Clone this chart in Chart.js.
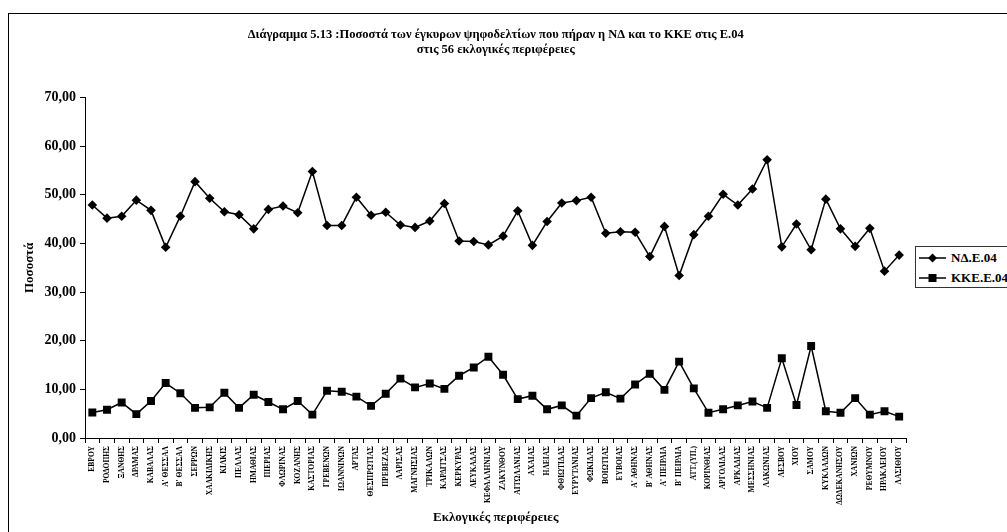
<!DOCTYPE html>
<html>
<head>
<meta charset="utf-8">
<script src="https://cdn.jsdelivr.net/npm/chart.js@4.4.1/dist/chart.umd.min.js"></script>
<style>
  html, body { margin: 0; padding: 0; background: #fff; overflow: hidden; width: 1007px; height: 532px; }
  #wrap { position: relative; width: 1007px; height: 532px; overflow: hidden; }
  #frame { position: absolute; left: 8px; top: 13px; width: 1200px; height: 700px; border: 1px solid #000; box-sizing: border-box; pointer-events: none; }
  #c { position: absolute; left: 0; top: 0; }
  #legend { position: absolute; left: 915px; top: 246px; width: 120px; height: 42px; border: 1px solid #333; box-sizing: border-box; background: #fff;
            font-family: 'Liberation Serif', 'Times New Roman', serif; font-weight: bold; font-size: 13px; color: #000; }
  .row { position: absolute; left: 3px; height: 16px; display: flex; align-items: center; white-space: nowrap; }
  .row svg { margin-right: 5px; }
</style>
</head>
<body>
<div id="wrap">
  <div id="frame"></div>
  <canvas id="c" width="1007" height="532"></canvas>
  <div id="legend">
    <div class="row" style="top:3px">
      <svg width="27" height="12"><line x1="0" y1="6" x2="27" y2="6" stroke="#000" stroke-width="1.5"/><polygon points="13.5,1.5 18,6 13.5,10.5 9,6" fill="#000"/></svg><span id="l0"></span>
    </div>
    <div class="row" style="top:23px">
      <svg width="27" height="12"><line x1="0" y1="6" x2="27" y2="6" stroke="#000" stroke-width="1.5"/><rect x="9.5" y="2" width="8" height="8" fill="#000"/></svg><span id="l1"></span>
    </div>
  </div>
</div>
<script>
const categories = [
  "ΕΒΡΟΥ","ΡΟΔΟΠΗΣ","ΞΑΝΘΗΣ","ΔΡΑΜΑΣ","ΚΑΒΑΛΑΣ","Α' ΘΕΣΣΑΛ","Β' ΘΕΣΣΑΛ","ΣΕΡΡΩΝ","ΧΑΛΚΙΔΙΚΗΣ","ΚΙΛΚΙΣ",
  "ΠΕΛΛΑΣ","ΗΜΑΘΙΑΣ","ΠΙΕΡΙΑΣ","ΦΛΩΡΙΝΑΣ","ΚΟΖΑΝΗΣ","ΚΑΣΤΟΡΙΑΣ","ΓΡΕΒΕΝΩΝ","ΙΩΑΝΝΙΝΩΝ","ΑΡΤΑΣ","ΘΕΣΠΡΩΤΙΑΣ",
  "ΠΡΕΒΕΖΑΣ","ΛΑΡΙΣΑΣ","ΜΑΓΝΗΣΙΑΣ","ΤΡΙΚΑΛΩΝ","ΚΑΡΔΙΤΣΑΣ","ΚΕΡΚΥΡΑΣ","ΛΕΥΚΑΔΑΣ","ΚΕΦΑΛΛΗΝΙΑΣ","ΖΑΚΥΝΘΟΥ","ΑΙΤΩΛΑΝΙΑΣ",
  "ΑΧΑΙΑΣ","ΗΛΕΙΑΣ","ΦΘΙΩΤΙΔΑΣ","ΕΥΡΥΤΑΝΙΑΣ","ΦΩΚΙΔΑΣ","ΒΟΙΩΤΙΑΣ","ΕΥΒΟΙΑΣ","Α' ΑΘΗΝΑΣ","Β' ΑΘΗΝΑΣ","Α' ΠΕΙΡΑΙΑ",
  "Β' ΠΕΙΡΑΙΑ","ΑΤΤ.(ΥΠ.)","ΚΟΡΙΝΘΙΑΣ","ΑΡΓΟΛΙΔΑΣ","ΑΡΚΑΔΙΑΣ","ΜΕΣΣΗΝΙΑΣ","ΛΑΚΩΝΙΑΣ","ΛΕΣΒΟΥ","ΧΙΟΥ","ΣΑΜΟΥ",
  "ΚΥΚΛΑΔΩΝ","ΔΩΔΕΚΑΝΗΣΟΥ","ΧΑΝΙΩΝ","ΡΕΘΥΜΝΟΥ","ΗΡΑΚΛΕΙΟΥ","ΛΑΣΙΘΙΟΥ"
];
const ndValues = [
  47.9, 45.2, 45.6, 48.9, 46.8, 39.2, 45.6, 52.7, 49.3, 46.5,
  45.9, 43.0, 47.0, 47.7, 46.3, 54.8, 43.7, 43.7, 49.5, 45.8,
  46.4, 43.8, 43.3, 44.6, 48.2, 40.5, 40.4, 39.7, 41.5, 46.7,
  39.6, 44.5, 48.3, 48.8, 49.5, 42.1, 42.4, 42.3, 37.3, 43.5,
  33.4, 41.8, 45.6, 50.1, 47.9, 51.2, 57.2, 39.3, 44.0, 38.7,
  49.1, 43.0, 39.4, 43.1, 34.3, 37.6
];
const kkeValues = [
  5.25, 5.8, 7.3, 4.9, 7.6, 11.3, 9.2, 6.2, 6.3, 9.3,
  6.2, 8.9, 7.4, 5.9, 7.6, 4.8, 9.7, 9.5, 8.5, 6.6,
  9.1, 12.2, 10.4, 11.2, 10.1, 12.8, 14.5, 16.7, 13.0, 8.0,
  8.7, 5.9, 6.7, 4.6, 8.2, 9.4, 8.1, 11.0, 13.2, 9.9,
  15.7, 10.2, 5.2, 5.9, 6.7, 7.5, 6.2, 16.4, 6.8, 18.9,
  5.5, 5.2, 8.2, 4.8, 5.5, 4.4
];
const seriesNames = ["ΝΔ.Ε.04", "ΚΚΕ.Ε.04"];
const titleLines = ["Διάγραμμα 5.13 :Ποσοστά των έγκυρων ψηφοδελτίων που πήραν η ΝΔ και το ΚΚΕ στις Ε.04", "στις 56 εκλογικές περιφέρειες"];
const yTitle = "Ποσοστά";
const xTitle = "Εκλογικές περιφέρειες";
const yMin = 0, yMax = 70, yStep = 10;

document.getElementById('l0').textContent = seriesNames[0];
document.getElementById('l1').textContent = seriesNames[1];

const FONT = "'Liberation Serif', 'Times New Roman', serif";

new Chart(document.getElementById('c'), {
  type: 'line',
  data: {
    labels: categories,
    datasets: [
      { label: seriesNames[0], data: ndValues, borderColor: '#000', backgroundColor: '#000', borderWidth: 1.5,
        pointStyle: 'rectRot', pointRadius: 4.8, pointBorderWidth: 0, tension: 0, fill: false },
      { label: seriesNames[1], data: kkeValues, borderColor: '#000', backgroundColor: '#000', borderWidth: 1.5,
        pointStyle: 'rect', pointRadius: 5.6, pointBorderWidth: 0, tension: 0, fill: false }
    ]
  },
  options: {
    responsive: false,
    animation: false,
    devicePixelRatio: 1,
    layout: { padding: { left: 0, right: 100.5, top: 0, bottom: 0 } },
    plugins: {
      legend: { display: false },
      tooltip: { enabled: false },
      title: {
        display: true, text: titleLines, fullSize: false, color: '#000',
        font: { family: FONT, size: 12.5, weight: 'bold', lineHeight: '15px' },
        padding: { top: 27.5, bottom: 40 }
      }
    },
    scales: {
      x: {
        type: 'category',
        offset: true,
        grid: { display: true, offset: true, drawOnChartArea: false, drawTicks: true, tickLength: 5, color: '#000', lineWidth: 1 },
        border: { display: true, color: '#000', width: 1 },
        ticks: { autoSkip: false, minRotation: 90, maxRotation: 90, padding: 3, color: '#000',
                 font: { family: FONT, size: 7.5, weight: 'bold' } },
        title: { display: true, text: xTitle, color: '#000', padding: { top: 0, bottom: 7 },
                 font: { family: FONT, size: 13, weight: 'bold', lineHeight: 1.2 } },
        afterFit: (s) => { s.height = 94; }
      },
      y: {
        min: yMin, max: yMax,
        grid: { display: true, drawOnChartArea: false, drawTicks: true, tickLength: 5, color: '#000', lineWidth: 1 },
        border: { display: true, color: '#000', width: 1 },
        ticks: { stepSize: yStep, padding: 4, color: '#000',
                 font: { family: FONT, size: 14, weight: 'bold' },
                 callback: (v) => Number(v).toFixed(2).replace('.', ',') },
        title: { display: true, text: yTitle, color: '#000', padding: { top: 22, bottom: 0 },
                 font: { family: FONT, size: 13, weight: 'bold', lineHeight: 1.2 } },
        afterFit: (s) => { s.width = 85; }
      }
    }
  }
});
</script>
</body>
</html>
